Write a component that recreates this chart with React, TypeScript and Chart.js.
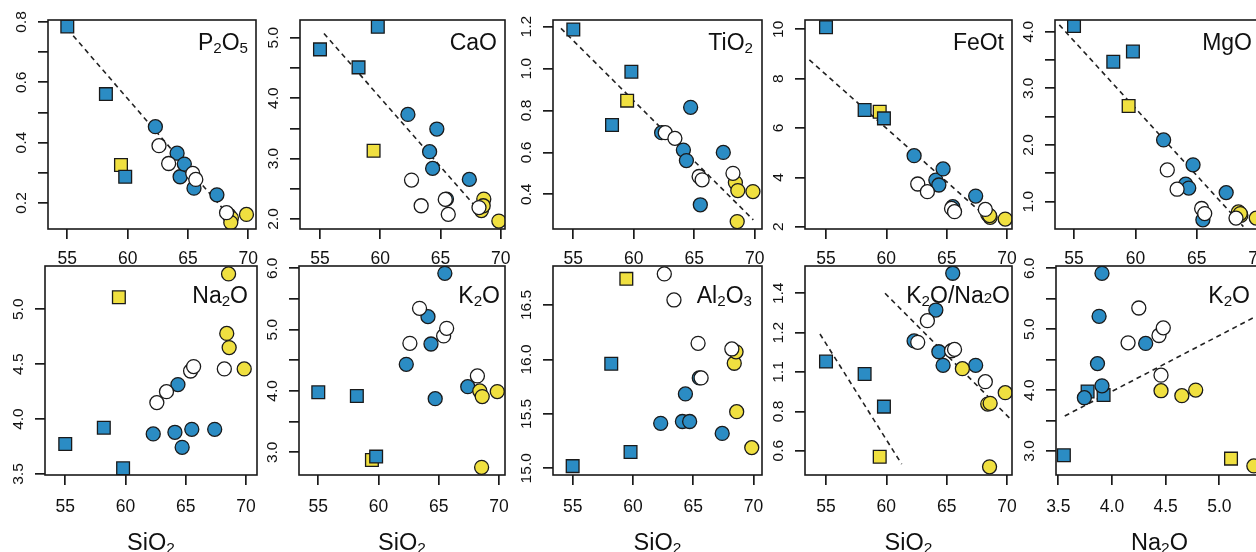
import React, { useEffect, useRef } from 'react';
import { Chart, registerables } from 'chart.js';

Chart.register(...registerables);

const FONT = '"Liberation Sans", Arial, Helvetica, sans-serif';
const BLUE = '#2b8cc4';
const YELLOW = '#f0e040';
const WHITE = '#ffffff';
const INK = '#1a1a1a';

// ---------------- data (one entry per sample) ----------------
// BS = blue square, YS = yellow square, BC = blue circle, WC = white circle, YC = yellow circle
const SAMPLE_GROUP = ['BS', 'BS', 'BS', 'YS', 'BC', 'BC', 'BC', 'BC', 'BC', 'BC', 'WC', 'WC', 'WC', 'WC', 'WC', 'YC', 'YC', 'YC', 'YC'];
const SIO2 = [55.0, 58.2, 59.8, 59.45, 62.3, 64.1, 64.35, 64.7, 65.5, 67.4, 62.6, 63.4, 65.4, 65.65, 68.2, 68.4, 68.6, 68.55, 69.85];
const P2O5 = [0.785, 0.561, 0.287, 0.326, 0.453, 0.365, 0.287, 0.329, 0.249, 0.227, 0.39, 0.331, 0.298, 0.278, 0.168, 0.16, 0.15, 0.135, 0.162];
const CAO = [4.807, 4.509, 5.18, 3.13, 3.731, 3.114, 2.838, 3.489, 2.33, 2.656, 2.645, 2.22, 2.325, 2.077, 2.19, 2.14, 2.33, 2.22, 1.966];
const TIO2 = [1.187, 0.731, 0.985, 0.847, 0.694, 0.611, 0.561, 0.815, 0.35, 0.6, 0.694, 0.667, 0.485, 0.469, 0.5, 0.456, 0.418, 0.27, 0.413];
const FEOT = [10.08, 6.73, 6.39, 6.66, 4.88, 3.89, 3.69, 4.34, 2.81, 3.24, 3.73, 3.42, 2.74, 2.61, 2.7, 2.5, 2.38, 2.45, 2.31];
const MGO = [4.1, 3.47, 3.65, 2.69, 2.09, 1.31, 1.24, 1.65, 0.68, 1.16, 1.56, 1.22, 0.88, 0.79, 0.71, 0.82, 0.76, 0.79, 0.71];
const NA2O = [3.773, 3.922, 3.552, 5.109, 3.865, 3.88, 4.314, 3.743, 3.907, 3.907, 4.15, 4.25, 4.438, 4.478, 4.457, 4.78, 4.651, 5.322, 4.457];
const K2O = [3.978, 3.918, 2.93, 2.875, 4.435, 5.212, 4.766, 3.875, 5.918, 4.07, 4.777, 5.348, 4.897, 5.022, 4.245, 4.0, 3.908, 2.755, 3.99];
const AL2O3 = [15.02, 15.96, 15.15, 16.74, 15.413, 15.43, 15.683, 15.43, 15.83, 15.32, 16.785, 16.546, 16.148, 15.83, 16.096, 15.965, 15.52, 16.07, 15.19];
const K2O_NA2O = [1.053, 0.99, 0.824, 0.569, 1.158, 1.315, 1.103, 1.034, 1.502, 1.034, 1.151, 1.261, 1.108, 1.115, 0.951, 0.837, 0.841, 0.518, 0.895];
// extra point only present in the K2O/Na2O panel
const RATIO_EXTRA_GROUP = ['YC'];
const RATIO_EXTRA_SIO2 = [66.3];
const RATIO_EXTRA_VAL = [1.017];

// dashed trend lines (end points)
const P2O5_FIT_X = [55.0, 69.0];
const P2O5_FIT_Y = [0.777, 0.13];
const CAO_FIT_X = [55.33, 68.2];
const CAO_FIT_Y = [5.07, 2.14];
const TIO2_FIT_X = [53.98, 69.88];
const TIO2_FIT_Y = [1.192, 0.278];
const FEOT_FIT_X = [53.62, 68.8];
const FEOT_FIT_Y = [8.76, 2.17];
const MGO_FIT_X = [53.8, 68.8];
const MGO_FIT_Y = [4.12, 0.56];
const RATIO_FIT1_X = [54.5, 61.27];
const RATIO_FIT1_Y = [1.193, 0.532];
const RATIO_FIT2_X = [59.89, 70.3];
const RATIO_FIT2_Y = [1.4, 0.76];
const K2O_NA_FIT_X = [3.56, 5.4];
const K2O_NA_FIT_Y = [3.575, 5.264];

// tick values and labels
const SIO2_TICKS = [55, 60, 65, 70];
const SIO2_LABELS = ['55', '60', '65', '70'];
const NA2O_X_TICKS = [3.5, 4.0, 4.5, 5.0];
const NA2O_X_LABELS = ['3.5', '4.0', '4.5', '5.0'];
const P2O5_TICKS = [0.2, 0.3, 0.4, 0.5, 0.6, 0.7, 0.8];
const P2O5_LABELS = ['0.2', '', '0.4', '', '0.6', '', '0.8'];
const CAO_TICKS = [2.0, 2.5, 3.0, 3.5, 4.0, 4.5, 5.0];
const CAO_LABELS = ['2.0', '', '3.0', '', '4.0', '', '5.0'];
const TIO2_TICKS = [0.4, 0.6, 0.8, 1.0, 1.2];
const TIO2_LABELS = ['0.4', '0.6', '0.8', '1.0', '1.2'];
const FEOT_TICKS = [2, 4, 6, 8, 10];
const FEOT_LABELS = ['2', '4', '6', '8', '10'];
const MGO_TICKS = [1.0, 1.5, 2.0, 2.5, 3.0, 3.5, 4.0];
const MGO_LABELS = ['1.0', '', '2.0', '', '3.0', '', '4.0'];
const NA2O_TICKS = [3.5, 4.0, 4.5, 5.0];
const NA2O_LABELS = ['3.5', '4.0', '4.5', '5.0'];
const K2O_TICKS = [3.0, 3.5, 4.0, 4.5, 5.0, 5.5, 6.0];
const K2O_LABELS = ['3.0', '', '4.0', '', '5.0', '', '6.0'];
const AL2O3_TICKS = [15.0, 15.5, 16.0, 16.5];
const AL2O3_LABELS = ['15.0', '15.5', '16.0', '16.5'];
const RATIO_TICKS = [0.6, 0.8, 1.0, 1.2, 1.4];
const RATIO_LABELS = ['0.6', '0.8', '1.1', '1.2', '1.4'];

// ---------------- layout ----------------
type Seg = { t: string; k?: 'sub' | 'small' };
const sub = (t: string): Seg => ({ t, k: 'sub' });

interface Panel {
  box: [number, number, number, number];
  xr: [number, number];
  yr: [number, number];
  xs: number[];
  ys: number[];
  extra?: { g: string[]; x: number[]; y: number[] };
  xt: number[];
  xl: string[];
  yt: number[];
  yl: string[];
  fits: { x: number[]; y: number[] }[];
  title: Seg[];
  inset: number;
  row: 0 | 1;
  xTitle?: Seg[];
}

const PANELS: Panel[] = [
  { box: [48, 20, 256, 229], xr: [53.4, 70.64], yr: [0.1138, 0.8066], xs: SIO2, ys: P2O5, xt: SIO2_TICKS, xl: SIO2_LABELS, yt: P2O5_TICKS, yl: P2O5_LABELS, fits: [{ x: P2O5_FIT_X, y: P2O5_FIT_Y }], title: [{ t: 'P' }, sub('2'), { t: 'O' }, sub('5')], inset: 8, row: 0 },
  { box: [300, 20, 505, 229], xr: [53.34, 70.36], yr: [1.835, 5.293], xs: SIO2, ys: CAO, xt: SIO2_TICKS, xl: SIO2_LABELS, yt: CAO_TICKS, yl: CAO_LABELS, fits: [{ x: CAO_FIT_X, y: CAO_FIT_Y }], title: [{ t: 'CaO' }], inset: 8, row: 0 },
  { box: [553, 20, 762, 229], xr: [53.32, 70.6], yr: [0.2344, 1.232], xs: SIO2, ys: TIO2, xt: SIO2_TICKS, xl: SIO2_LABELS, yt: TIO2_TICKS, yl: TIO2_LABELS, fits: [{ x: TIO2_FIT_X, y: TIO2_FIT_Y }], title: [{ t: 'TiO' }, sub('2')], inset: 9, row: 0 },
  { box: [805, 20, 1012, 229], xr: [53.26, 70.41], yr: [1.907, 10.377], xs: SIO2, ys: FEOT, xt: SIO2_TICKS, xl: SIO2_LABELS, yt: FEOT_TICKS, yl: FEOT_LABELS, fits: [{ x: FEOT_FIT_X, y: FEOT_FIT_Y }], title: [{ t: 'FeOt' }], inset: 8, row: 0 },
  { box: [1055, 20, 1263, 229], xr: [53.45, 70.4], yr: [0.518, 4.206], xs: SIO2, ys: MGO, xt: SIO2_TICKS, xl: SIO2_LABELS, yt: MGO_TICKS, yl: MGO_LABELS, fits: [{ x: MGO_FIT_X, y: MGO_FIT_Y }], title: [{ t: 'MgO' }], inset: 11, row: 0 },
  { box: [45, 266, 257, 475], xr: [53.32, 70.91], yr: [3.491, 5.394], xs: SIO2, ys: NA2O, xt: SIO2_TICKS, xl: SIO2_LABELS, yt: NA2O_TICKS, yl: NA2O_LABELS, fits: [], title: [{ t: 'Na' }, sub('2'), { t: 'O' }], inset: 9, row: 1, xTitle: [{ t: 'SiO' }, sub('2')] },
  { box: [299, 266, 505, 475], xr: [53.4, 70.49], yr: [2.63, 6.0375], xs: SIO2, ys: K2O, xt: SIO2_TICKS, xl: SIO2_LABELS, yt: K2O_TICKS, yl: K2O_LABELS, fits: [], title: [{ t: 'K' }, sub('2'), { t: 'O' }], inset: 5, row: 1, xTitle: [{ t: 'SiO' }, sub('2')] },
  { box: [553, 266, 762, 475], xr: [53.37, 70.7], yr: [14.9385, 16.858], xs: SIO2, ys: AL2O3, xt: SIO2_TICKS, xl: SIO2_LABELS, yt: AL2O3_TICKS, yl: AL2O3_LABELS, fits: [], title: [{ t: 'Al' }, sub('2'), { t: 'O' }, sub('3')], inset: 10, row: 1, xTitle: [{ t: 'SiO' }, sub('2')] },
  { box: [805, 266, 1012, 475], xr: [53.26, 70.41], yr: [0.4765, 1.5388], xs: SIO2, ys: K2O_NA2O, extra: { g: RATIO_EXTRA_GROUP, x: RATIO_EXTRA_SIO2, y: RATIO_EXTRA_VAL }, xt: SIO2_TICKS, xl: SIO2_LABELS, yt: RATIO_TICKS, yl: RATIO_LABELS, fits: [{ x: RATIO_FIT1_X, y: RATIO_FIT1_Y }, { x: RATIO_FIT2_X, y: RATIO_FIT2_Y }], title: [{ t: 'K' }, sub('2'), { t: 'O/Na' }, { t: '2', k: 'small' }, { t: 'O' }], inset: 2, row: 1, xTitle: [{ t: 'SiO' }, sub('2')] },
  { box: [1056, 266, 1263, 475], xr: [3.4786, 5.407], yr: [2.606, 6.038], xs: NA2O, ys: K2O, xt: NA2O_X_TICKS, xl: NA2O_X_LABELS, yt: K2O_TICKS, yl: K2O_LABELS, fits: [{ x: K2O_NA_FIT_X, y: K2O_NA_FIT_Y }], title: [{ t: 'K' }, sub('2'), { t: 'O' }], inset: 13, row: 1, xTitle: [{ t: 'Na' }, sub('2'), { t: 'O' }] },
];

const L = 45;
const T = 20;
const R = 20;
const B_ROW = [45, 85];
const TICK_LEN = 10;
const X_FONT = 17.5;
const Y_FONT = 15.5;
const TITLE_FONT = 23;
const AXIS_TITLE_FONT = 23.5;

function geom(p: Panel) {
  const [l, t, r, b] = p.box;
  const B = B_ROW[p.row];
  return { left: l - L, top: t - T, w: L + (r - l) + R, h: T + (b - t) + B, B };
}

function drawRich(ctx: CanvasRenderingContext2D, segs: Seg[], x: number, y: number, align: 'right' | 'center', F: number) {
  const parts = segs.map((s) => {
    const size = s.k ? F * 0.66 : F;
    const dy = s.k === 'sub' ? F * 0.14 : 0;
    ctx.font = `${size}px ${FONT}`;
    return { t: s.t, size, dy, w: ctx.measureText(s.t).width };
  });
  const total = parts.reduce((a, p) => a + p.w, 0);
  let cx = align === 'right' ? x - total : x - total / 2;
  ctx.textAlign = 'left';
  ctx.textBaseline = 'alphabetic';
  ctx.fillStyle = '#111';
  for (const p of parts) {
    ctx.font = `${p.size}px ${FONT}`;
    ctx.fillText(p.t, cx, y + p.dy);
    cx += p.w;
  }
}

const decorPlugin = {
  id: 'decor',
  afterDatasetsDraw(chart: any, _args: any, opts: any) {
    const { ctx, chartArea: a } = chart;
    ctx.save();
    ctx.strokeStyle = INK;
    ctx.lineWidth = 1.6;
    ctx.strokeRect(a.left, a.top, a.right - a.left, a.bottom - a.top);
    if (opts.title) drawRich(ctx, opts.title, a.right - opts.inset, a.top + opts.titleBase, 'right', TITLE_FONT);
    if (opts.xTitle) drawRich(ctx, opts.xTitle, (a.left + a.right) / 2, a.bottom + 75, 'center', AXIS_TITLE_FONT);
    ctx.restore();
  },
};

const GROUP_ORDER = ['WC', 'YC', 'BC', 'BS', 'YS'];
const GROUP_STYLE: Record<string, { bg: string; style: string; r: number }> = {
  WC: { bg: WHITE, style: 'circle', r: 7 },
  YC: { bg: YELLOW, style: 'circle', r: 7 },
  BC: { bg: BLUE, style: 'circle', r: 7 },
  BS: { bg: BLUE, style: 'rect', r: 9 },
  YS: { bg: YELLOW, style: 'rect', r: 9 },
};

const measureCtx = typeof document !== 'undefined' ? document.createElement('canvas').getContext('2d') : null;

function buildConfig(p: Panel): any {
  const g = geom(p);
  const datasets: any[] = [];
  for (const grp of GROUP_ORDER) {
    const pts: { x: number; y: number }[] = [];
    SAMPLE_GROUP.forEach((s, i) => {
      if (s === grp) pts.push({ x: p.xs[i], y: p.ys[i] });
    });
    if (p.extra) {
      p.extra.g.forEach((s, i) => {
        if (s === grp) pts.push({ x: p.extra!.x[i], y: p.extra!.y[i] });
      });
    }
    const st = GROUP_STYLE[grp];
    datasets.push({
      data: pts,
      pointStyle: st.style,
      pointRadius: st.r,
      pointHoverRadius: st.r,
      pointBackgroundColor: st.bg,
      pointBorderColor: INK,
      pointBorderWidth: 1.3,
      showLine: false,
    });
  }
  for (const f of p.fits) {
    datasets.push({
      data: f.x.map((x, i) => ({ x, y: f.y[i] })),
      showLine: true,
      borderColor: '#222',
      borderWidth: 1.6,
      borderDash: [5, 4],
      pointRadius: 0,
      fill: false,
    });
  }
  let widest = 0;
  if (measureCtx) {
    measureCtx.font = `${Y_FONT}px ${FONT}`;
    for (const s of p.yl) widest = Math.max(widest, measureCtx.measureText(s).width);
  }
  const yPad = Math.max(0, 26.5 - TICK_LEN - widest / 2);
  const xPad = p.row === 0 ? 10 : 12;
  const gridOpts = { drawOnChartArea: false, drawTicks: true, tickLength: TICK_LEN, color: INK, tickColor: INK, lineWidth: 1.7, tickWidth: 1.7 };
  return {
    type: 'scatter',
    data: { datasets },
    plugins: [decorPlugin],
    options: {
      responsive: false,
      maintainAspectRatio: false,
      devicePixelRatio: 1,
      animation: false,
      events: [],
      layout: { padding: { left: 0, top: T, right: R, bottom: 0 } },
      plugins: {
        legend: { display: false },
        tooltip: { enabled: false },
        decor: { title: p.title, inset: p.inset, titleBase: p.row === 0 ? 30 : 37, xTitle: p.xTitle },
      },
      scales: {
        x: {
          type: 'linear',
          position: 'bottom',
          min: p.xr[0],
          max: p.xr[1],
          bounds: 'data',
          afterBuildTicks: (s: any) => {
            s.ticks = p.xt.map((v) => ({ value: v }));
          },
          afterFit: (s: any) => {
            s.height = g.B;
          },
          grid: gridOpts,
          border: { display: false },
          ticks: {
            autoSkip: false,
            minRotation: 0,
            maxRotation: 0,
            padding: xPad,
            color: '#111',
            font: { family: FONT, size: X_FONT },
            callback: (_v: any, i: number) => p.xl[i],
          },
        },
        y: {
          type: 'linear',
          position: 'left',
          min: p.yr[0],
          max: p.yr[1],
          bounds: 'data',
          afterBuildTicks: (s: any) => {
            s.ticks = p.yt.map((v) => ({ value: v }));
          },
          afterFit: (s: any) => {
            s.width = L;
          },
          grid: gridOpts,
          border: { display: false },
          ticks: {
            autoSkip: false,
            minRotation: 90,
            maxRotation: 90,
            crossAlign: 'center',
            padding: yPad,
            color: '#111',
            font: { family: FONT, size: Y_FONT },
            callback: (_v: any, i: number) => p.yl[i],
          },
        },
      },
    },
  };
}

export default function App() {
  const refs = useRef<(HTMLCanvasElement | null)[]>([]);
  useEffect(() => {
    const charts = PANELS.map((p, i) => new Chart(refs.current[i] as HTMLCanvasElement, buildConfig(p)));
    return () => charts.forEach((c) => c.destroy());
  }, []);
  return (
    <div style={{ position: 'fixed', left: 0, top: 0, width: 1256, height: 552, overflow: 'hidden', background: '#fff' }}>
      {PANELS.map((p, i) => {
        const g = geom(p);
        return (
          <canvas
            key={i}
            ref={(el) => {
              refs.current[i] = el;
            }}
            width={g.w}
            height={g.h}
            style={{ position: 'absolute', left: g.left, top: g.top, width: g.w, height: g.h }}
          />
        );
      })}
    </div>
  );
}
